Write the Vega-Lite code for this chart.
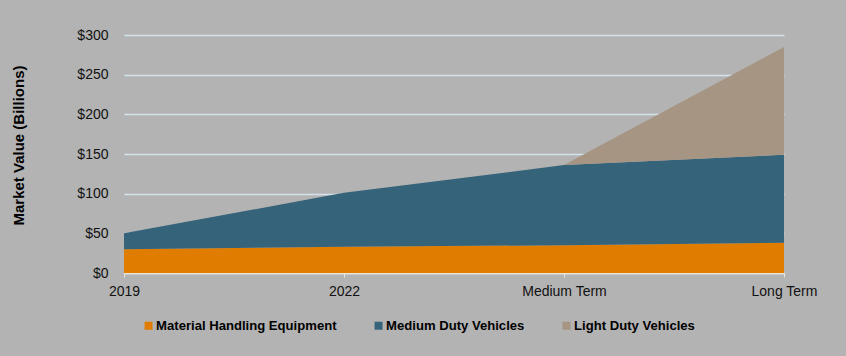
{
  "$schema": "https://vega.github.io/schema/vega-lite/v6.json",
  "autosize": "none",
  "width": 660,
  "height": 238,
  "padding": {"left": 124, "top": 35, "right": 62, "bottom": 83},
  "background": "#B3B3B3",
  "config": {
    "view": {"stroke": null},
    "font": "Liberation Sans"
  },
  "data": {
    "values": [
      {"period": "2019", "series": "Material Handling Equipment", "k": 1, "value": 30},
      {"period": "2022", "series": "Material Handling Equipment", "k": 1, "value": 33},
      {"period": "Medium Term", "series": "Material Handling Equipment", "k": 1, "value": 35},
      {"period": "Long Term", "series": "Material Handling Equipment", "k": 1, "value": 38},
      {"period": "2019", "series": "Medium Duty Vehicles", "k": 2, "value": 20},
      {"period": "2022", "series": "Medium Duty Vehicles", "k": 2, "value": 68},
      {"period": "Medium Term", "series": "Medium Duty Vehicles", "k": 2, "value": 101},
      {"period": "Long Term", "series": "Medium Duty Vehicles", "k": 2, "value": 111},
      {"period": "2019", "series": "Light Duty Vehicles", "k": 3, "value": 0},
      {"period": "2022", "series": "Light Duty Vehicles", "k": 3, "value": 0},
      {"period": "Medium Term", "series": "Light Duty Vehicles", "k": 3, "value": 0},
      {"period": "Long Term", "series": "Light Duty Vehicles", "k": 3, "value": 136}
    ]
  },
  "mark": {"type": "area", "opacity": 1},
  "encoding": {
    "x": {
      "field": "period",
      "type": "ordinal",
      "sort": ["2019", "2022", "Medium Term", "Long Term"],
      "scale": {"type": "point", "padding": 0},
      "axis": {
        "title": null,
        "labelAngle": 0,
        "labelFontSize": 14,
        "labelColor": "#111111",
        "labelPadding": 7,
        "domainColor": "#EDE7DA",
        "domainWidth": 1.5,
        "tickColor": "#EDE7DA",
        "tickSize": 4,
        "grid": false
      }
    },
    "y": {
      "field": "value",
      "type": "quantitative",
      "stack": "zero",
      "scale": {"domain": [0, 300]},
      "axis": {
        "title": "Market Value (Billions)",
        "titleFontSize": 15,
        "titleFontWeight": "bold",
        "titleColor": "#000000",
        "titleX": -106,
        "titleY": 110,
        "titleAngle": -90,
        "titleAlign": "center",
        "titleBaseline": "middle",
        "values": [0, 50, 100, 150, 200, 250, 300],
        "labelExpr": "'$' + datum.value",
        "labelFontSize": 14,
        "labelColor": "#111111",
        "labelPadding": 16,
        "ticks": false,
        "domain": false,
        "gridColor": "#D3E3EC",
        "gridWidth": 1.5
      }
    },
    "color": {
      "field": "series",
      "type": "nominal",
      "scale": {
        "domain": ["Material Handling Equipment", "Medium Duty Vehicles", "Light Duty Vehicles"],
        "range": ["#E07D00", "#356379", "#A59582"]
      },
      "legend": {
        "title": null,
        "orient": "none",
        "direction": "horizontal",
        "legendX": 18,
        "legendY": 284,
        "symbolType": "square",
        "symbolSize": 64,
        "symbolStrokeWidth": 0,
        "labelFontSize": 13.1,
        "labelFontWeight": "bold",
        "labelColor": "#000000",
        "labelOffset": 1,
        "labelLimit": 0,
        "columnPadding": 35
      }
    },
    "order": {"field": "k", "type": "quantitative"}
  }
}
